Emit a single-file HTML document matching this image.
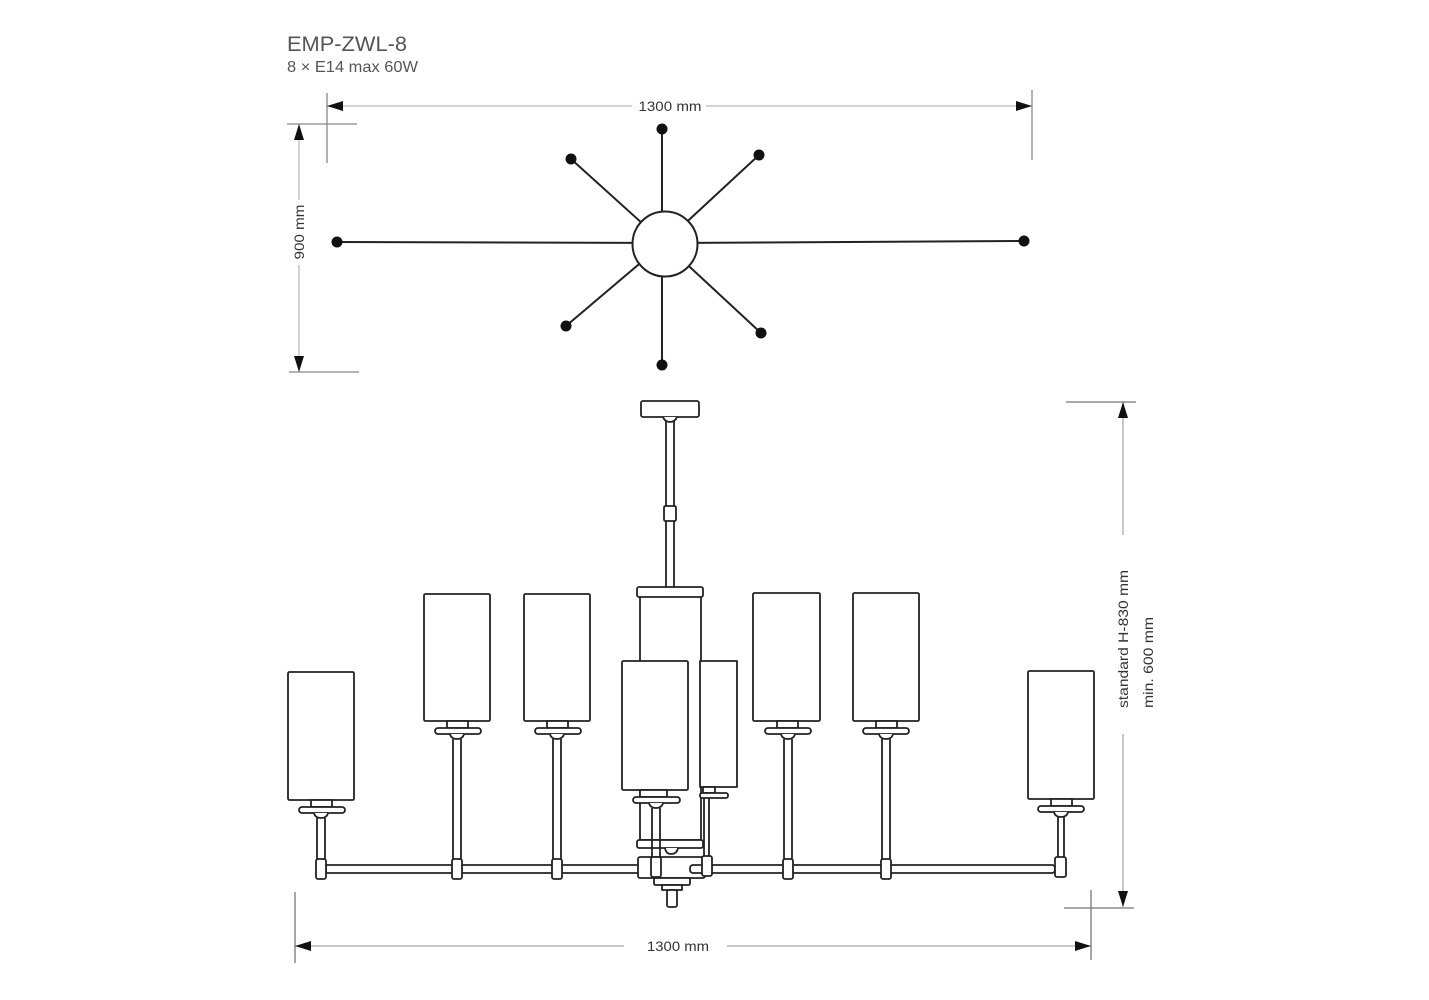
<!DOCTYPE html>
<html>
<head>
<meta charset="utf-8">
<style>
html,body{margin:0;padding:0;background:#fff;}
svg{display:block;}
text{font-family:"Liberation Sans",sans-serif;}
</style>
</head>
<body>
<svg width="1429" height="1000" viewBox="0 0 1429 1000" xmlns="http://www.w3.org/2000/svg">
<rect width="1429" height="1000" fill="#fff"/>

<!-- Title -->
<text x="287" y="51" font-size="21" fill="#555" textLength="120" lengthAdjust="spacingAndGlyphs">EMP-ZWL-8</text>
<text x="287" y="72" font-size="16" fill="#555" textLength="131" lengthAdjust="spacingAndGlyphs">8 × E14 max 60W</text>

<!-- TOP DIMENSION 1300 -->
<g stroke="#bbb" stroke-width="1.3" fill="none">
  <line x1="327" y1="106" x2="632" y2="106"/>
  <line x1="706" y1="106" x2="1032" y2="106"/>
  <line x1="299" y1="124" x2="299" y2="200"/>
  <line x1="299" y1="265" x2="299" y2="372"/>
</g>
<g stroke="#888" stroke-width="1.3">
  <line x1="327" y1="93" x2="327" y2="163"/>
  <line x1="1032" y1="90" x2="1032" y2="160"/>
  <line x1="287" y1="124" x2="357" y2="124"/>
  <line x1="289" y1="372" x2="359" y2="372"/>
</g>
<g fill="#111">
  <polygon points="327,106 343,101 343,111"/>
  <polygon points="1032,106 1016,101 1016,111"/>
  <polygon points="299,124 294,140 304,140"/>
  <polygon points="299,372 294,356 304,356"/>
</g>
<text x="670" y="111" font-size="14" fill="#333" text-anchor="middle" textLength="63" lengthAdjust="spacingAndGlyphs">1300 mm</text>
<text transform="translate(304,232) rotate(-90)" font-size="14" fill="#333" text-anchor="middle" textLength="55" lengthAdjust="spacingAndGlyphs">900 mm</text>

<!-- STAR (top view) -->
<g stroke="#222" stroke-width="2" fill="none">
  <line x1="337" y1="242" x2="664" y2="243"/>
  <line x1="1024" y1="241" x2="664" y2="243"/>
  <line x1="662" y1="129" x2="662" y2="243"/>
  <line x1="662" y1="365" x2="662" y2="243"/>
  <line x1="571" y1="159" x2="664" y2="243"/>
  <line x1="759" y1="155" x2="664" y2="243"/>
  <line x1="566" y1="326" x2="664" y2="243"/>
  <line x1="761" y1="333" x2="664" y2="243"/>
</g>
<circle cx="665" cy="244" r="32.5" fill="#fff" stroke="#222" stroke-width="2"/>
<g fill="#111">
  <circle cx="337" cy="242" r="5.5"/>
  <circle cx="1024" cy="241" r="5.5"/>
  <circle cx="662" cy="129" r="5.5"/>
  <circle cx="662" cy="365" r="5.5"/>
  <circle cx="571" cy="159" r="5.5"/>
  <circle cx="759" cy="155" r="5.5"/>
  <circle cx="566" cy="326" r="5.5"/>
  <circle cx="761" cy="333" r="5.5"/>
</g>

<!-- SIDE VIEW -->
<g stroke="#222" stroke-width="1.8" fill="#fff" stroke-linejoin="round">
  <!-- canopy -->
  <rect x="641" y="401" width="58" height="16" rx="2"/>
  <path d="M663,417 Q665,422 670,422 Q675,422 677,417"/>
  <!-- rod -->
  <line x1="666" y1="421" x2="666" y2="587"/>
  <line x1="674" y1="421" x2="674" y2="587"/>
  <rect x="664" y="506" width="12" height="15" rx="1.5"/>

  <!-- central column -->
  <rect x="640" y="596" width="61" height="244"/>
  <rect x="637" y="587" width="66" height="10" rx="2"/>

  <!-- back shade -->
  <rect x="700" y="661" width="37" height="126"/>
  <rect x="703" y="787" width="12" height="6"/>
  <rect x="700" y="793" width="28" height="5" rx="2"/>
  <line x1="704" y1="798" x2="704" y2="858"/>
  <line x1="709" y1="798" x2="709" y2="858"/>

  <!-- column bottom plate -->
  <rect x="637" y="840" width="66" height="8" rx="2"/>
  <path d="M665,848 Q666,854 671,854 Q677,854 678,848"/>

  <!-- bar -->
  <rect x="326" y="865" width="320" height="8"/>
  <!-- hub -->
  <rect x="638" y="857" width="67" height="21" rx="2"/>
  <rect x="690" y="865" width="365" height="8" rx="3"/>
  <rect x="654" y="878" width="36" height="7" rx="1.5"/>
  <rect x="662" y="885" width="20" height="5"/>
  <rect x="667" y="890" width="10" height="17" rx="2"/>
  <rect x="702" y="856" width="10" height="20" rx="2"/>
</g>

<!-- Lamps -->
<g stroke="#222" stroke-width="1.8" fill="#fff" stroke-linejoin="round">
  <!-- lamp 1 (center 321) -->
  <rect x="288" y="672" width="66" height="128" rx="1.5"/>
  <rect x="311" y="800" width="21" height="7"/>
  <rect x="299" y="807" width="46" height="6" rx="3"/>
  <path d="M314,813 Q315,818 321,818 Q327,818 328,813"/>
  <line x1="317" y1="818" x2="317" y2="859"/>
  <line x1="325" y1="818" x2="325" y2="859"/>
  <rect x="316" y="859" width="10" height="20" rx="2"/>

  <!-- lamp 2 (center 457) -->
  <rect x="424" y="594" width="66" height="127" rx="1.5"/>
  <rect x="447" y="721" width="21" height="7"/>
  <rect x="435" y="728" width="46" height="6" rx="3"/>
  <path d="M450,734 Q451,739 457,739 Q463,739 464,734"/>
  <line x1="453" y1="739" x2="453" y2="859"/>
  <line x1="461" y1="739" x2="461" y2="859"/>
  <rect x="452" y="859" width="10" height="20" rx="2"/>

  <!-- lamp 3 (center 557) -->
  <rect x="524" y="594" width="66" height="127" rx="1.5"/>
  <rect x="547" y="721" width="21" height="7"/>
  <rect x="535" y="728" width="46" height="6" rx="3"/>
  <path d="M550,734 Q551,739 557,739 Q563,739 564,734"/>
  <line x1="553" y1="739" x2="553" y2="859"/>
  <line x1="561" y1="739" x2="561" y2="859"/>
  <rect x="552" y="859" width="10" height="20" rx="2"/>

  <!-- lamp 4 front center (center 656) -->
  <rect x="622" y="661" width="66" height="129" rx="1.5"/>
  <rect x="640" y="790" width="27" height="7"/>
  <rect x="633" y="797" width="47" height="6" rx="3"/>
  <path d="M649,803 Q650,808 656,808 Q662,808 663,803"/>
  <line x1="652" y1="808" x2="652" y2="857"/>
  <line x1="660" y1="808" x2="660" y2="857"/>
  <rect x="651" y="857" width="10" height="20" rx="2"/>

  <!-- lamp 5 (center 787) -->
  <rect x="753" y="593" width="67" height="128" rx="1.5"/>
  <rect x="777" y="721" width="21" height="7"/>
  <rect x="765" y="728" width="46" height="6" rx="3"/>
  <path d="M781,734 Q782,739 788,739 Q794,739 795,734"/>
  <line x1="784" y1="739" x2="784" y2="859"/>
  <line x1="792" y1="739" x2="792" y2="859"/>
  <rect x="783" y="859" width="10" height="20" rx="2"/>

  <!-- lamp 6 (center 886) -->
  <rect x="853" y="593" width="66" height="128" rx="1.5"/>
  <rect x="876" y="721" width="21" height="7"/>
  <rect x="863" y="728" width="46" height="6" rx="3"/>
  <path d="M879,734 Q880,739 886,739 Q892,739 893,734"/>
  <line x1="882" y1="739" x2="882" y2="859"/>
  <line x1="890" y1="739" x2="890" y2="859"/>
  <rect x="881" y="859" width="10" height="20" rx="2"/>

  <!-- lamp 7 (center 1061) -->
  <rect x="1028" y="671" width="66" height="128" rx="1.5"/>
  <rect x="1051" y="799" width="21" height="7"/>
  <rect x="1038" y="806" width="46" height="6" rx="3"/>
  <path d="M1054,812 Q1055,817 1061,817 Q1067,817 1068,812"/>
  <line x1="1058" y1="817" x2="1058" y2="857"/>
  <line x1="1064" y1="817" x2="1064" y2="857"/>
  <rect x="1055" y="857" width="11" height="20" rx="2"/>
</g>

<!-- RIGHT / BOTTOM DIMENSIONS -->
<g stroke="#aaa" stroke-width="1.3" fill="none">
  <line x1="1123" y1="402" x2="1123" y2="535"/>
  <line x1="1123" y1="734" x2="1123" y2="907"/>
  <line x1="295" y1="946" x2="624" y2="946"/>
  <line x1="727" y1="946" x2="1091" y2="946"/>
</g>
<g stroke="#777" stroke-width="1.3">
  <line x1="1066" y1="402" x2="1136" y2="402"/>
  <line x1="1064" y1="908" x2="1134" y2="908"/>
  <line x1="1091" y1="890" x2="1091" y2="960"/>
  <line x1="295" y1="892" x2="295" y2="963"/>
</g>
<g fill="#111">
  <polygon points="1123,402 1118,418 1128,418"/>
  <polygon points="1123,907 1118,891 1128,891"/>
  <polygon points="295,946 311,941 311,951"/>
  <polygon points="1091,946 1075,941 1075,951"/>
</g>
<text x="678" y="951" font-size="14" fill="#333" text-anchor="middle" textLength="62" lengthAdjust="spacingAndGlyphs">1300 mm</text>
<text transform="translate(1128,708) rotate(-90)" font-size="14" fill="#333" textLength="138" lengthAdjust="spacingAndGlyphs">standard H-830 mm</text>
<text transform="translate(1153,708) rotate(-90)" font-size="14" fill="#333" textLength="91" lengthAdjust="spacingAndGlyphs">min. 600 mm</text>
</svg>
</body>
</html>
